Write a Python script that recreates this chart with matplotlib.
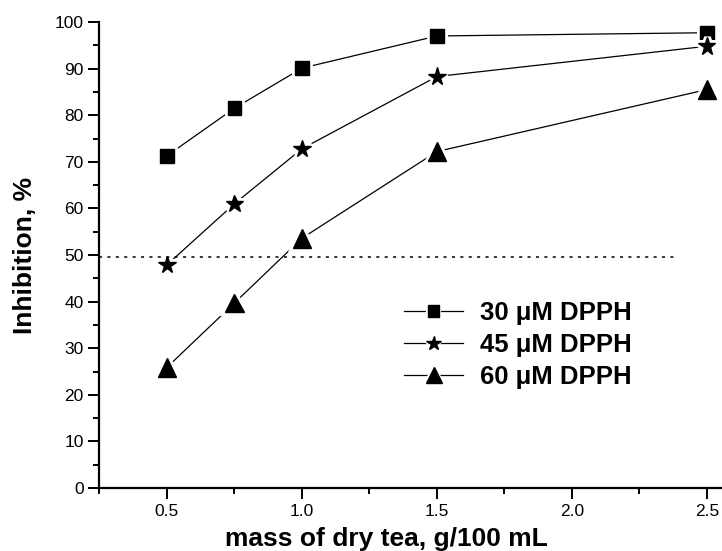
import matplotlib
matplotlib.use("Agg")
import matplotlib.pyplot as plt
import matplotlib.patheffects as pe
from matplotlib.ticker import MultipleLocator, FormatStrFormatter

plt.rcParams['font.family'] = ['Liberation Sans', 'DejaVu Sans']

# data
mass = [0.5, 0.75, 1.0, 1.5, 2.5]
dpph_30 = [71.3, 81.5, 90.1, 97.0, 97.7]
dpph_45 = [47.9, 61.0, 72.8, 88.3, 94.8]
dpph_60 = [25.9, 39.7, 53.6, 72.2, 85.5]
series = [("30 μM DPPH", dpph_30, 's', 10),
          ("45 μM DPPH", dpph_45, '*', 13),
          ("60 μM DPPH", dpph_60, '^', 13.5)]
half_line = 49.5
half_line_end = 2.38

fig = plt.figure(figsize=(7.22, 5.51), dpi=100)
# axes box in pixels: x 0.25 -> 99.5, 2.556 -> 722 ; y 0 -> 488, 100 -> 22
ax = fig.add_axes([99.5 / 722, (551 - 488) / 551, (722 - 99.5) / 722, (488 - 22) / 551])

handles = []
for label, vals, mk, ms in series:
    ax.plot(mass, vals, color='black', lw=0.9)
    # white halo so the connecting line stops short of each marker
    ax.plot(mass, vals, ls='none', marker=mk, ms=ms, color='black',
            path_effects=[pe.Stroke(linewidth=5, foreground='white'), pe.Normal()])
    h, = ax.plot([], [], color='black', lw=0.9, marker=mk, ms=ms * 0.85, label=label,
                 path_effects=[pe.Stroke(linewidth=3, foreground='white'), pe.Normal()])
    handles.append(h)

ax.plot([0.25, half_line_end], [half_line, half_line], ls=(0, (2, 3.5)), color='black', lw=1.1)

ax.set_xlim(0.25, 2.556)
ax.set_ylim(0, 100)
ax.xaxis.set_major_locator(MultipleLocator(0.5))
ax.xaxis.set_minor_locator(MultipleLocator(0.25))
ax.yaxis.set_major_locator(MultipleLocator(10))
ax.yaxis.set_minor_locator(MultipleLocator(5))
ax.xaxis.set_major_formatter(FormatStrFormatter('%.1f'))

for s in ['top', 'right']:
    ax.spines[s].set_visible(False)
for s in ['left', 'bottom']:
    ax.spines[s].set_linewidth(1.6)
ax.tick_params(which='major', direction='out', length=8, width=1.4, labelsize=12.5)
ax.tick_params(which='minor', direction='out', length=4, width=1.4)

ax.set_xlabel("mass of dry tea, g/100 mL", fontsize=19, fontweight='bold')
ax.set_ylabel("Inhibition, %", fontsize=19, fontweight='bold')
ax.xaxis.set_label_coords((386 - 99.5) / (722 - 99.5), -(539 - 488) / (488 - 22), transform=ax.transAxes)
ax.xaxis.label.set_va('center')
ax.yaxis.set_label_coords(-(99.5 - 25) / (722 - 99.5), 0.5)
ax.yaxis.label.set_va('center')

ax.legend(handles=handles, loc='upper left', bbox_to_anchor=((404 - 99.5) / 622.5, (488 - 301) / 466),
          frameon=False, handlelength=2.3, handletextpad=0.66, labelspacing=0.32,
          borderaxespad=0, borderpad=0,
          prop={'size': 18.5, 'weight': 'bold'})

fig.savefig("out.png", dpi=100)
